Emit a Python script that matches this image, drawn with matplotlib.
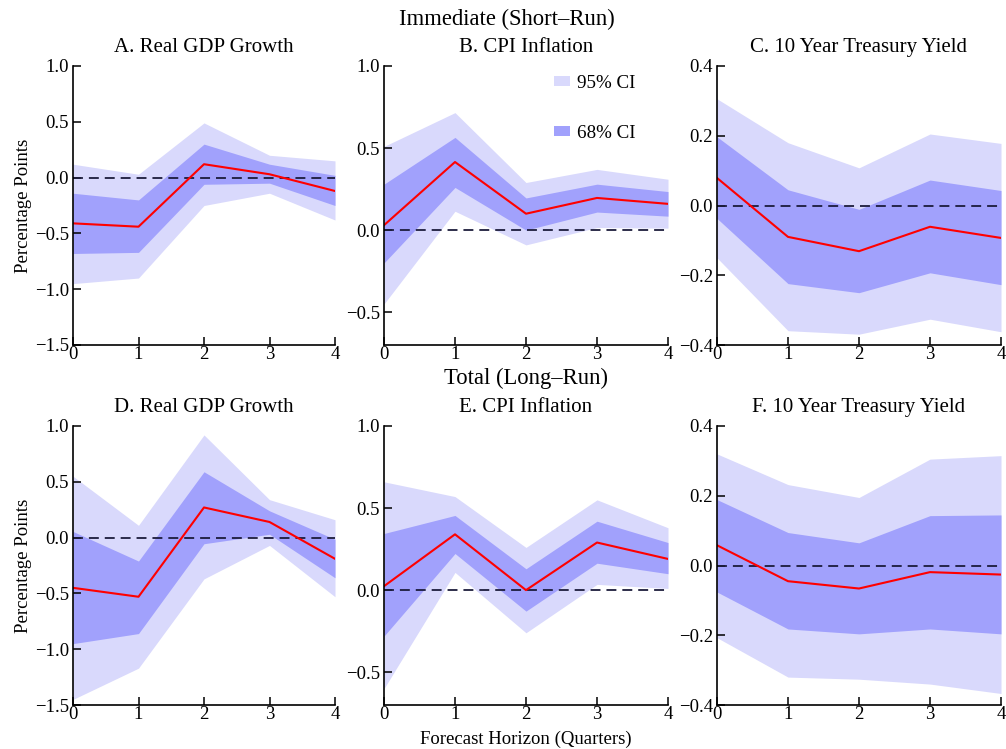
import matplotlib
matplotlib.use("Agg")
import matplotlib.pyplot as plt
from matplotlib.patches import Patch
import numpy as np

plt.rcParams["font.family"] = ["Liberation Serif", "DejaVu Serif"]
plt.rcParams["mathtext.fontset"] = "stix"

horizon = [0, 1, 2, 3, 4]

titles = ["A. Real GDP Growth", "B. CPI Inflation", "C. 10 Year Treasury Yield",
          "D. Real GDP Growth", "E. CPI Inflation", "F. 10 Year Treasury Yield"]

# point estimates
gdp_short = [-0.41, -0.44, 0.12, 0.03, -0.12]
cpi_short = [0.03, 0.415, 0.10, 0.196, 0.16]
yld_short = [0.079, -0.09, -0.131, -0.061, -0.093]
gdp_long = [-0.45, -0.53, 0.27, 0.14, -0.19]
cpi_long = [0.024, 0.34, 0.0, 0.29, 0.19]
yld_long = [0.058, -0.045, -0.066, -0.019, -0.026]

# 95% bands
gdp_short_95 = ([-0.95, -0.90, -0.25, -0.14, -0.38], [0.12, 0.03, 0.49, 0.20, 0.15])
cpi_short_95 = ([-0.45, 0.115, -0.09, 0.016, 0.012], [0.51, 0.716, 0.29, 0.37, 0.31])
yld_short_95 = ([-0.15, -0.359, -0.369, -0.326, -0.362], [0.306, 0.18, 0.108, 0.205, 0.178])
gdp_long_95 = ([-1.45, -1.17, -0.37, -0.07, -0.53], [0.55, 0.11, 0.92, 0.34, 0.16])
cpi_long_95 = ([-0.60, 0.108, -0.26, 0.035, 0.01], [0.66, 0.57, 0.26, 0.55, 0.38])
yld_long_95 = ([-0.207, -0.32, -0.326, -0.34, -0.367], [0.32, 0.232, 0.195, 0.305, 0.315])

# 68% bands
gdp_short_68 = ([-0.68, -0.67, -0.06, -0.05, -0.25], [-0.14, -0.20, 0.30, 0.12, 0.02])
cpi_short_68 = ([-0.20, 0.26, 0.0, 0.11, 0.085], [0.28, 0.565, 0.196, 0.28, 0.235])
yld_short_68 = ([-0.037, -0.224, -0.25, -0.193, -0.227], [0.197, 0.045, -0.011, 0.073, 0.043])
gdp_long_68 = ([-0.95, -0.86, -0.055, 0.03, -0.36], [0.055, -0.21, 0.59, 0.24, -0.015])
cpi_long_68 = ([-0.28, 0.223, -0.128, 0.164, 0.10], [0.345, 0.455, 0.13, 0.42, 0.29])
yld_long_68 = ([-0.076, -0.182, -0.196, -0.182, -0.196], [0.189, 0.0945, 0.065, 0.143, 0.145])

panels = [
    (gdp_short, gdp_short_95, gdp_short_68, (-1.5, 1.0), [-1.5, -1.0, -0.5, 0.0, 0.5, 1.0]),
    (cpi_short, cpi_short_95, cpi_short_68, (-0.7, 1.0), [-0.5, 0.0, 0.5, 1.0]),
    (yld_short, yld_short_95, yld_short_68, (-0.4, 0.4), [-0.4, -0.2, 0.0, 0.2, 0.4]),
    (gdp_long, gdp_long_95, gdp_long_68, (-1.5, 1.0), [-1.5, -1.0, -0.5, 0.0, 0.5, 1.0]),
    (cpi_long, cpi_long_95, cpi_long_68, (-0.7, 1.0), [-0.5, 0.0, 0.5, 1.0]),
    (yld_long, yld_long_95, yld_long_68, (-0.4, 0.4), [-0.4, -0.2, 0.0, 0.2, 0.4]),
]

c95 = "#d9d9fc"
c68 = "#a1a1fc"
zero_col = "#1c1c3c"

W, H = 1006, 749
fig = plt.figure(figsize=(W / 100, H / 100), dpi=100)

col_px = [(73, 335), (384, 668), (717, 1001)]
row_px = [(66, 345), (426, 705)]

axes = []
for i, (est, b95, b68, ylim, yticks) in enumerate(panels):
    r, c = divmod(i, 3)
    x0, x1 = col_px[c]
    y0, y1 = row_px[r]
    ax = fig.add_axes([x0 / W, 1 - y1 / H, (x1 - x0) / W, (y1 - y0) / H])
    ax.fill_between(horizon, b95[0], b95[1], color=c95, lw=0)
    ax.fill_between(horizon, b68[0], b68[1], color=c68, lw=0)
    ax.axhline(0, color=zero_col, lw=1.3, ls=(0, (5.5, 3.3)))
    ax.plot(horizon, est, color="red", lw=1.5)
    ax.set_xlim(0, 4)
    ax.set_ylim(*ylim)
    ax.set_xticks(horizon)
    ax.set_yticks(yticks)
    ax.set_yticklabels([f"{t:.1f}".replace("-", "\u2212") for t in yticks])
    ax.spines["top"].set_visible(False)
    ax.spines["right"].set_visible(False)
    for s in ("left", "bottom"):
        ax.spines[s].set_linewidth(1.2)
    ax.tick_params(direction="in", length=6, width=1.1, labelsize=13.5)
    ax.tick_params(axis="x", pad=1)
    ax.tick_params(axis="y", pad=3)
    ax.set_title(titles[i], fontsize=15, pad=10)
    if c == 0:
        ax.set_ylabel("Percentage Points", fontsize=13.5, labelpad=2)
    axes.append(ax)

axes[4].set_xlabel("Forecast Horizon (Quarters)", fontsize=13.5, labelpad=5)

handles = [Patch(facecolor=c95, edgecolor="none", label="95% CI"),
           Patch(facecolor=c68, edgecolor="none", label="68% CI")]
axes[1].legend(handles=handles, loc="upper left", bbox_to_anchor=(0.54, 1.03),
               frameon=False, fontsize=13.7, handlelength=0.8, handleheight=0.4,
               handletextpad=0.4, labelspacing=1.75)

fig.text(507 / W, 1 - 19 / H, "Immediate (Short\u2013Run)", ha="center", va="center", fontsize=16.3)
fig.text(526 / W, 1 - 378 / H, "Total (Long\u2013Run)", ha="center", va="center", fontsize=16.3)

fig.savefig("out.png", dpi=100)
